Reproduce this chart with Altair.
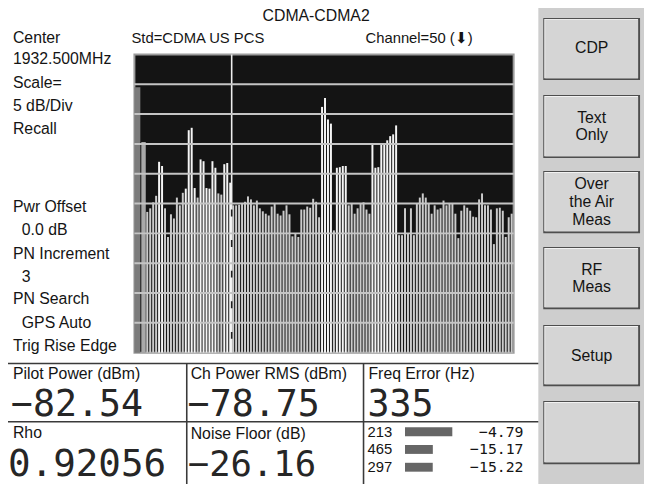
import altair as alt
import pandas as pd

# ---------------- values read from the screen ----------------
# code domain power (dB relative to total), Walsh codes 4..127
first_code = 4
cdp_db = [-26.4, -25.8, -24.8, -23.7, -18.0, -18.7, -25.8, -30.6, -26.8, -27.5,   # 4-13
          -24.0, -25.3, -23.2, -22.5, -12.7, -12.3, -22.4, -24.0, -17.6, -17.9,   # 14-23
          -22.4, -22.5, -17.9, -19.0, -23.3, -23.5, -18.4, -18.2, -21.5, -25.3,   # 24-33
          -25.3, -25.2, -25.0, -24.7, -23.8, -24.3, -25.3, -24.5, -25.8, -26.3,   # 34-43
          -26.7, -27.0, -25.5, -25.0, -26.7, -27.0, -26.2, -25.3, -26.8, -30.5,   # 44-53
          -30.0, -30.6, -26.0, -26.0, -25.5, -25.7, -24.2, -24.7, -27.3, -8.8,    # 54-63
          -7.3, -10.9, -11.6, -29.5, -19.0, -18.9, -18.7, -18.7, -25.3, -25.0,    # 64-73
          -26.7, -25.8, -25.0, -24.8, -26.0, -26.7, -15.1, -19.0, -18.9, -15.1,   # 74-83
          -14.9, -14.4, -13.7, -13.4, -11.9, -30.3, -30.3, -25.8, -30.1, -25.8,   # 84-93
          -30.3, -25.0, -24.0, -23.3, -24.0, -25.0, -26.7, -25.3, -26.0, -25.8,   # 94-103
          -24.5, -25.3, -25.0, -25.0, -26.7, -30.8, -26.2, -25.3, -25.7, -26.2,   # 104-113
          -27.2, -27.3, -24.3, -23.3, -25.3, -25.3, -26.0, -31.8, -25.8, -25.7,   # 114-123
          -26.2, -30.6, -27.3, -26.7]                                             # 124-127

# pilot region at the left edge of the trace
pilot_kind = ["band", "pilot"]
pilot_from = [0.0, 2.33]
pilot_to = [2.0, 3.83]
pilot_db = [-5.5, -14.7]

grid_db = [-5, -10, -15, -20, -25, -30, -35, -40, -45]
marker_code = [32.83]
marker_lo = [-50.0]
marker_hi = [-22.0]

code_domain = [0, 128]
db_domain = [-50, 0]

# read-outs
pilot_power = -82.54
ch_power_rms = -78.75
freq_error = 335
rho = 0.92056
noise_floor = -26.16

pn_offsets = [213, 465, 297]
pn_power = [-4.79, -15.17, -15.22]

buttons_top = [15, 93, 170, 247, 326, 403]
buttons_bot = [78, 157, 233, 310, 388, 467]


def fmt(v, nd):
    return f"{v:.{nd}f}".replace("-", "\u2212")


# ---------------- page layout (page pixels) ----------------
OX, OY = 136, 52   # top-left of the trace window on the page
SANS = "Liberation Sans"
MONO = "DejaVu Sans Mono"
INK = "#141414"
BIG_INK = "#262626"

xs = alt.Scale(domain=code_domain, nice=False, zero=False)
ys = alt.Scale(domain=db_domain, nice=False, zero=False)

cdp = pd.DataFrame({"code": list(range(first_code, first_code + len(cdp_db))), "db": cdp_db})


def cdp_bars(test, color):
    return (
        alt.Chart(cdp)
        .transform_filter(test)
        .transform_calculate(code_end="datum.code + 2/3", base=str(db_domain[0]))
        .mark_rect(color=color)
        .encode(
            x=alt.X("code:Q", scale=xs, axis=None),
            x2="code_end:Q",
            y=alt.Y("db:Q", scale=ys, axis=None),
            y2="base:Q",
        )
    )


bars_noise = cdp_bars("datum.db < -22.6", "#cbcbcb")
bars_active = cdp_bars("datum.db >= -22.6", "#f5f5f5")

pilot = (
    alt.Chart(pd.DataFrame({"kind": pilot_kind, "c0": pilot_from, "c1": pilot_to, "db": pilot_db}))
    .transform_calculate(base=str(db_domain[0]))
    .mark_rect()
    .encode(
        x=alt.X("c0:Q", scale=xs, axis=None),
        x2="c1:Q",
        y=alt.Y("db:Q", scale=ys, axis=None),
        y2="base:Q",
        color=alt.Color("kind:N", scale=alt.Scale(domain=["band", "pilot"], range=["#7b7b7b", "#a9a9a9"]), legend=None),
    )
)

grid = (
    alt.Chart(pd.DataFrame({"db": grid_db}))
    .mark_rule(color="#c4c4c4", strokeWidth=2)
    .encode(y=alt.Y("db:Q", scale=ys, axis=None))
)

marker = (
    alt.Chart(pd.DataFrame({"code": marker_code}))
    .mark_rule(color="#eeeeee", strokeWidth=1.6)
    .encode(x=alt.X("code:Q", scale=xs, axis=None))
)

marker_dash = (
    alt.Chart(pd.DataFrame({"code": marker_code, "lo": marker_lo, "hi": marker_hi}))
    .mark_rule(color="#202020", strokeWidth=1.6, strokeDash=[7, 24], strokeDashOffset=17)
    .encode(
        x=alt.X("code:Q", scale=xs, axis=None),
        y=alt.Y("lo:Q", scale=ys, axis=None),
        y2="hi:Q",
    )
)

# ---------- right soft-key panel ----------
def pix_rects(x0, x1, tops, bots, color):
    df = pd.DataFrame({
        "x0": [x0 - OX] * len(tops), "x1": [x1 - OX] * len(tops),
        "y0": [t - OY for t in tops], "y1": [b - OY for b in bots],
    })
    return (
        alt.Chart(df)
        .mark_rect(color=color)
        .encode(
            x=alt.X("x0:Q", scale=None, axis=None), x2="x1:Q",
            y=alt.Y("y0:Q", scale=None, axis=None), y2="y1:Q",
        )
    )


panel = pix_rects(545, 652, [0], [487], "#cecece")
btn_shadow = pix_rects(550, 648, buttons_top, buttons_bot, "#4e4e4e")
btn_light = pix_rects(551, 646, [t + 1 for t in buttons_top], [b - 2 for b in buttons_bot], "#f2f2f2")
btn_face = pix_rects(552, 646, [t + 2 for t in buttons_top], [b - 2 for b in buttons_bot], "#d5d5d5")

# ---------- separator lines of the read-out table ----------
sep = pd.DataFrame({
    "x0": [0, 0, 189, 368], "x1": [545, 545, 189, 368],
    "y0": [365, 424, 365, 365], "y1": [365, 424, 487, 487],
})
sep = sep.assign(x0=sep.x0 - OX, x1=sep.x1 - OX, y0=sep.y0 - OY, y1=sep.y1 - OY)
lines = (
    alt.Chart(sep)
    .mark_rule(color="#3a3a3a", strokeWidth=1.6)
    .encode(
        x=alt.X("x0:Q", scale=None, axis=None), x2="x1:Q",
        y=alt.Y("y0:Q", scale=None, axis=None), y2="y1:Q",
    )
)


def texts(items, size, font=SANS, align="left", baseline="middle", color=INK):
    df = pd.DataFrame({
        "label": [t for t, _, _ in items],
        "px": [x - OX for _, x, _ in items],
        "py": [y - OY for _, _, y in items],
    })
    return (
        alt.Chart(df)
        .mark_text(align=align, baseline=baseline, font=font, fontSize=size, color=color)
        .encode(
            x=alt.X("px:Q", scale=None, axis=None),
            y=alt.Y("py:Q", scale=None, axis=None),
            text="label:N",
        )
    )


left_col = texts([
    ("Center", 13, 35), ("1932.500MHz", 13, 57), ("Scale=", 13, 81),
    ("5 dB/Div", 13, 104), ("Recall", 13, 128), ("Pwr Offset", 13, 207),
    ("0.0 dB", 22, 230), ("PN Increment", 13, 254), ("3", 22, 277),
    ("PN Search", 13, 300), ("GPS Auto", 22, 324), ("Trig Rise Edge", 13, 347),
    ("Pilot Power (dBm)", 13, 376), ("Ch Power RMS (dBm)", 193, 376),
    ("Freq Error (Hz)", 373, 376), ("Rho", 13, 435), ("Noise Floor (dB)", 193, 436),
], 16)

title = texts([("CDMA-CDMA2", 320, 13)], 16, align="center")
header = texts([("Std=CDMA US PCS", 133, 35), ("Channel=50 (\u2B07)", 370, 35)], 15)

big_top = texts([
    (fmt(pilot_power, 2), 11, 418), (fmt(ch_power_rms, 2), 190, 418),
    (str(freq_error), 372, 418),
], 37, font=MONO, baseline="alphabetic", color=BIG_INK)
big_bottom = texts([(fmt(noise_floor, 2), 190, 479)], 36, font=MONO, baseline="alphabetic", color=BIG_INK)
big_rho = texts([(f"{rho:.5f}", 8, 479)], 38, font=MONO, baseline="alphabetic", color=BIG_INK)

soft_keys = texts([
    ("CDP", 599, 46), ("Text", 599, 116), ("Only", 599, 134),
    ("Over", 599, 183), ("the Air", 599, 201), ("Meas", 599, 220),
    ("RF", 599, 270), ("Meas", 599, 288), ("Setup", 599, 357),
], 16, align="center")

# ---------- strongest PN offsets mini table ----------
pn = pd.DataFrame({
    "rank": [0, 1, 2], "pn": [str(p) for p in pn_offsets], "power": pn_power,
    "txt": [fmt(v, 2) for v in pn_power],
})
row_scale = alt.Scale(domain=[0, 1, 2], range=[373, 427], paddingInner=0.5, paddingOuter=0.25)
pw_scale = alt.Scale(domain=[-30, 0], range=[274, 331], nice=False, zero=False)

pn_bars = (
    alt.Chart(pn)
    .transform_calculate(start="-30")
    .mark_rect(color="#666666")
    .encode(
        x=alt.X("start:Q", scale=pw_scale, axis=None), x2="power:Q",
        y=alt.Y("rank:O", scale=row_scale, axis=None),
    )
)
pn_lab = (
    alt.Chart(pn)
    .mark_text(align="left", baseline="middle", font=SANS, fontSize=15, color=INK)
    .encode(x=alt.value(372 - OX), y=alt.Y("rank:O", scale=row_scale, axis=None), text="pn:N")
)
pn_val = (
    alt.Chart(pn)
    .mark_text(align="right", baseline="middle", font=MONO, fontSize=15, color=INK)
    .encode(x=alt.value(530 - OX), y=alt.Y("rank:O", scale=row_scale, axis=None), text="txt:N")
)

chart = (
    alt.layer(
        panel, btn_shadow, btn_light, btn_face, lines,
        marker, pilot, bars_noise, bars_active, grid, marker_dash,
        pn_bars, pn_lab, pn_val,
        left_col, title, header, big_top, big_bottom, big_rho, soft_keys,
    )
    .resolve_scale(x="independent", y="independent")
    .properties(
        width=384, height=302,
        padding={"left": 128, "top": 44, "right": 132, "bottom": 133},
        autosize=alt.AutoSizeParams(type="none"),
        background="white",
    )
    .configure_view(fill="#141414", stroke="#9c9c9c", strokeWidth=2)
)

chart.save("out.html", embed_options={"renderer": "svg", "actions": False})
